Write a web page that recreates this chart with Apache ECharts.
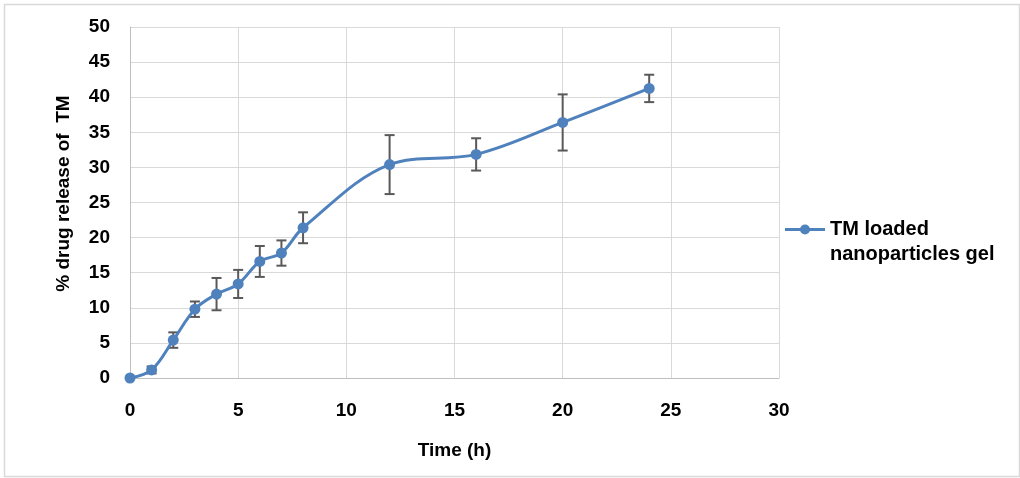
<!DOCTYPE html>
<html>
<head>
<meta charset="utf-8">
<script src="https://cdn.jsdelivr.net/npm/echarts@6/dist/echarts.min.js"></script>
<style>
html,body{margin:0;padding:0;background:#fff;}
#chart{width:1020px;height:478px;}
</style>
</head>
<body>
<div id="chart"></div>
<script>
const timeH = [0, 1, 2, 3, 4, 5, 6, 7, 8, 12, 16, 20, 24];
const release = [0, 1.15, 5.4, 9.8, 11.95, 13.4, 16.6, 17.8, 21.4, 30.4, 31.85, 36.4, 41.25];
const errorSD = [0, 0.5, 1.1, 1.1, 2.3, 2.0, 2.2, 1.8, 2.2, 4.2, 2.3, 4.0, 1.95];
const seriesName = 'TM loaded\nnanoparticles gel';
const xAxisTitle = 'Time (h)';
const yAxisTitle = '% drug release of  TM';

const font = '"Liberation Sans", Arial, sans-serif';
const lineData = timeH.map((t, i) => [t, release[i]]);
const errData = timeH.map((t, i) => [t, release[i] - errorSD[i], release[i] + errorSD[i]]);

const legendIcon = 'path://M0,0 M40,50 M0,11 L40,11 L40,14 L0,14 Z M25,12.5 A5,5 0 1 1 15,12.5 A5,5 0 1 1 25,12.5 Z';

const chart = echarts.init(document.getElementById('chart'), null, {renderer: 'canvas'});
chart.setOption({
  animation: false,
  backgroundColor: '#fff',
  graphic: [{
    type: 'rect', left: 2, top: 2, z: -1,
    shape: {width: 1015, height: 472},
    style: {fill: 'none', stroke: '#d9d9d9', lineWidth: 1.5}
  }],
  grid: {left: 130, right: 241, top: 27, bottom: 100},
  legend: {
    data: [{name: seriesName, icon: legendIcon}],
    left: 785, top: 217,
    padding: 0,
    orient: 'vertical',
    itemWidth: 40, itemHeight: 50,
    textStyle: {fontFamily: font, fontWeight: 'bold', fontSize: 20, color: '#000', lineHeight: 25}
  },
  xAxis: {
    type: 'value', min: 0, max: 30, interval: 5,
    name: xAxisTitle, nameLocation: 'middle', nameGap: 63,
    nameTextStyle: {fontFamily: font, fontWeight: 'bold', fontSize: 19, color: '#000'},
    axisLine: {show: true, lineStyle: {color: '#bfbfbf', width: 1}},
    axisTick: {show: false},
    axisLabel: {fontFamily: font, fontWeight: 'bold', fontSize: 19, color: '#000', margin: 23},
    splitLine: {show: true, lineStyle: {color: '#d9d9d9', width: 1}}
  },
  yAxis: {
    type: 'value', min: 0, max: 50, interval: 5,
    name: yAxisTitle, nameLocation: 'middle', nameGap: 57, nameRotate: 90,
    nameTextStyle: {fontFamily: font, fontWeight: 'bold', fontSize: 19, color: '#000', padding: [0, 0, 0, 18]},
    axisLine: {show: true, lineStyle: {color: '#bfbfbf', width: 1}},
    axisTick: {show: false},
    axisLabel: {fontFamily: font, fontWeight: 'bold', fontSize: 19, color: '#000', margin: 20, padding: [3, 0, 0, 0]},
    splitLine: {show: true, lineStyle: {color: '#d9d9d9', width: 1}}
  },
  series: [
    {
      name: seriesName,
      type: 'line',
      data: lineData,
      smooth: 0.35,
      symbol: 'circle',
      symbolSize: 11,
      itemStyle: {color: '#4f81bd'},
      lineStyle: {color: '#4f81bd', width: 3},
      z: 3
    },
    {
      name: 'error',
      type: 'custom',
      data: errData,
      z: 2,
      encode: {x: 0, y: [1, 2]},
      renderItem: function (params, api) {
        const x = api.value(0);
        const lo = api.coord([x, api.value(1)]);
        const hi = api.coord([x, api.value(2)]);
        const w = 5;
        const st = {stroke: '#595959', lineWidth: 2, fill: 'none'};
        return {
          type: 'group',
          children: [
            {type: 'line', shape: {x1: lo[0], y1: lo[1], x2: hi[0], y2: hi[1]}, style: st},
            {type: 'line', shape: {x1: lo[0] - w, y1: lo[1], x2: lo[0] + w, y2: lo[1]}, style: st},
            {type: 'line', shape: {x1: hi[0] - w, y1: hi[1], x2: hi[0] + w, y2: hi[1]}, style: st}
          ]
        };
      }
    }
  ]
});
</script>
</body>
</html>
